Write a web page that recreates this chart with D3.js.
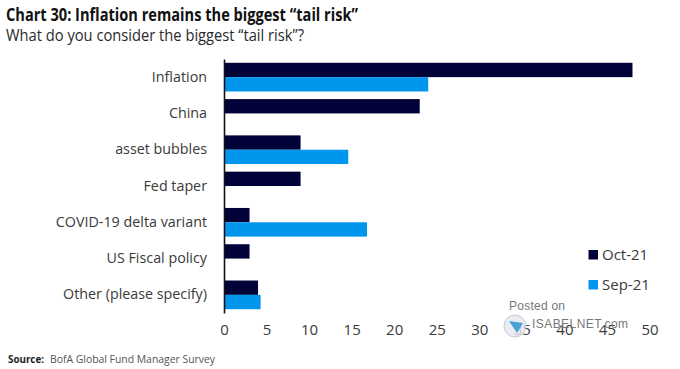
<!DOCTYPE html>
<html><head><meta charset="utf-8">
<script src="https://cdn.jsdelivr.net/npm/d3@7"></script>
<style>
html,body{margin:0;padding:0;background:#fff}
svg{display:block}
text{font-family:"Open Sans",sans-serif}
</style></head><body>
<svg id="c" width="680" height="369"></svg>
<script>
const categories=["Inflation","China","asset bubbles","Fed taper","COVID-19 delta variant","US Fiscal policy","Other (please specify)"];
const seriesNames=["Oct-21","Sep-21"];
const oct21=[48,23,9,9,3,3,4];
const sep21=[24,null,14.6,null,16.8,null,4.3];
const xTicks=[0,5,10,15,20,25,30,35,40,45,50];
const colors=["#000238","#0096ee"];
const titleText="Chart 30: Inflation remains the biggest “tail risk”";
const subtitleText="What do you consider the biggest “tail risk”?";

const svg=d3.select("#c");
const x=d3.scaleLinear().domain([0,50]).range([224,649.5]);
const y=d3.scaleBand().domain(categories).range([59,313]).paddingInner(0.21).paddingOuter(0.105);
const inner=d3.scaleBand().domain(seriesNames).range([0,y.bandwidth()]);
const textCol="#3a3a3a";

svg.append("text").attr("x",6).attr("y",21).attr("font-size",17).attr("font-weight",700).attr("fill","#111").attr("textLength",352).attr("lengthAdjust","spacingAndGlyphs").text(titleText);
svg.append("text").attr("x",6).attr("y",41).attr("font-size",16.5).attr("fill","#2a2a2a").attr("textLength",298).attr("lengthAdjust","spacingAndGlyphs").text(subtitleText);

[oct21,sep21].forEach((vals,i)=>{
  svg.append("g").selectAll("rect").data(categories.map((c,k)=>({c,v:vals[k]})).filter(d=>d.v!==null)).join("rect")
    .attr("x",x(0)).attr("y",d=>y(d.c)+inner(seriesNames[i]))
    .attr("width",d=>x(d.v)-x(0)).attr("height",inner.bandwidth())
    .attr("fill",colors[i]);
});

const yAxis=d3.axisLeft(y).tickSize(0).tickPadding(17);
const gy=svg.append("g").attr("transform",`translate(${x(0)},0)`).call(yAxis);
gy.select(".domain").attr("stroke","#111").attr("stroke-width",1.6);
gy.selectAll("text").attr("font-size",14.3).attr("fill",textCol).style("font-family",'"Open Sans",sans-serif');

const xAxis=d3.axisBottom(x).tickValues(xTicks).tickSize(0).tickPadding(0);
const gx=svg.append("g").attr("transform","translate(0,324.5)").call(xAxis);
gx.select(".domain").remove();
gx.selectAll("text").attr("font-size",15).attr("fill",textCol).style("font-family",'"Open Sans",sans-serif');

const legend=svg.append("g");
seriesNames.forEach((n,i)=>{
  const ly=254.5+i*30;
  legend.append("rect").attr("x",588.5).attr("y",ly-4.5).attr("width",9.5).attr("height",9.5).attr("fill",colors[i]);
  legend.append("text").attr("x",602).attr("y",ly+5.5).attr("font-size",15).attr("fill",textCol).text(n);
});

svg.append("text").attr("x",8).attr("y",363).attr("font-size",11).attr("font-weight",700).attr("fill","#222").attr("textLength",36).attr("lengthAdjust","spacingAndGlyphs").text("Source:");
svg.append("text").attr("x",50).attr("y",363).attr("font-size",11).attr("fill","#555").attr("textLength",165).attr("lengthAdjust","spacingAndGlyphs").text("BofA Global Fund Manager Survey");

// watermark
const wm=svg.append("g");
wm.append("circle").attr("cx",515).attr("cy",326).attr("r",11).attr("fill","#e3e9ed").attr("fill-opacity",0.8).attr("stroke","#c4ccd2");
wm.append("path").attr("d","M509 321 L523 323 L517 333 Z").attr("fill","#4aa3d8");
wm.append("text").attr("x",509).attr("y",310).attr("font-size",12).attr("fill","#777").style("font-family",'"Liberation Sans",sans-serif').attr("textLength",56).text("Posted on");
wm.append("text").attr("x",532).attr("y",327.5).attr("font-size",12).attr("fill","#777").style("font-family",'"Liberation Sans",sans-serif').attr("textLength",96).text("ISABELNET.com");
</script></body></html>
